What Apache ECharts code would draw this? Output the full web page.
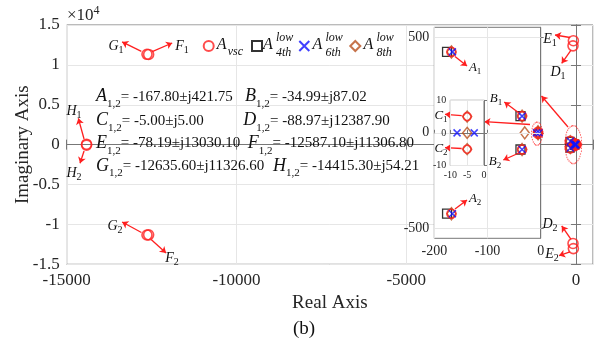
<!DOCTYPE html>
<html>
<head>
<meta charset="utf-8">
<script src="https://cdn.jsdelivr.net/npm/echarts@6/dist/echarts.min.js"></script>
<style>
  html, body { margin: 0; padding: 0; background: #fff; }
  #chart { width: 610px; height: 343px; }
</style>
</head>
<body>
<div id="chart"></div>
<script>
// poles (real, imag)
const vscPoles = [
  [-167.80, 421.75], [-167.80, -421.75],
  [-34.99, 87.02], [-34.99, -87.02],
  [-5.00, 5.00], [-5.00, -5.00],
  [-88.97, 12387.90], [-88.97, -12387.90],
  [-78.19, 13030.10], [-78.19, -13030.10],
  [-12587.10, 11306.80], [-12587.10, -11306.80],
  [-12635.60, 11326.60], [-12635.60, -11326.60],
  [-14415.30, 54.21], [-14415.30, -54.21]
]
const low4th = [[-176, 421.75], [-176, -421.75], [-38, 87.02], [-38, -87.02]]
const low6th = [[-166, 421.75], [-166, -421.75], [-35, 87.02], [-35, -87.02], [-8.0, 0], [-2.9, 0]]
const low8th = [[-167.8, 421.75], [-167.8, -421.75], [-35, 87.02], [-35, -87.02], [-30, 0], [-5, 5], [-5, 0], [-5, -5]]

// equation texts
const eqLeft = [['A', '-167.80±j421.75'], ['C', '-5.00±j5.00'], ['E', '-78.19±j13030.10'], ['G', '-12635.60±j11326.60']]
const eqRight = [['B', '-34.99±j87.02'], ['D', '-88.97±j12387.90'], ['F', '-12587.10±j11306.80'], ['H', '-14415.30±j54.21']]

// axis ranges: main, inset, zoomed inset
const xRanges = [[-15000, 500], [-200, 0], [-10, 0]]
const yRanges = [[-15000, 15000], [-550, 550], [-10, 10]]

// annotation arrows [x1, y1, x2, y2] in data units
const mainArrows = [
  [-12802, 11690, -13368, 12877], [-12481, 11665, -11894, 12743],
  [-12799, -11013, -13368, -9697], [-12513, -11878, -12074, -13574],
  [-14489, 708, -14657, 3303], [-14489, -796, -14607, -2339],
  [-177, 13432, -618, 13746], [-147, 11865, -421, 10198],
  [-147, -11865, -421, -10198], [-177, -13432, -500, -13900],
  [-236, 2213, -1016, 6099]
]
const mainLabels = [
  ['G', '1', -13547, 12367], ['F', '1', -11603, 12367],
  ['G', '2', -13576, -10198], ['F', '2', -11898, -14210],
  ['H', '1', -14784, 4218], ['H', '2', -14784, -3554],
  ['E', '1', -766, 13244], ['D', '1', -530, 9107],
  ['D', '2', -766, -9947], ['E', '2', -707, -13712]
]
const insetArrows = [
  [-161.1, 397.8, -138.5, 348], [-161.1, -397.8, -138.5, -350],
  [-40.8, 103.2, -68.4, 160.5], [-40.8, -105.4, -70.3, -141.9],
  [-20.1, 43.2, -106, 57.8],
  [-148.5, 89.1, -179.9, 96.4], [-148.5, -81.9, -179.9, -77.7]
]
const insetLabels = [
  ['A', '1', -123.3, 337.8], ['A', '2', -123.3, -345],
  ['B', '1', -84, 176], ['B', '2', -86, -152],
  ['C', '1', -187.4, 87.5], ['C', '2', -187.4, -84.5]
]

const FONT = '"Liberation Serif", "Times New Roman", serif'
const RED = '#ff1f1f'
const BROWN = '#b8501e'
const BLUE = '#1010ff'
const CLEAR = 'rgba(0,0,0,0)'

const chart = echarts.init(document.getElementById('chart'))

function clip(pts, g) {
  return pts.filter(p => p[0] >= xRanges[g][0] && p[0] <= xRanges[g][1] &&
    p[1] >= yRanges[g][0] && p[1] <= yRanges[g][1])
}

const labRich = size => ({
  v: { fontSize: size, fontStyle: 'italic', fontFamily: FONT, color: '#111' },
  s: { fontSize: Math.round(size * 0.68), fontFamily: FONT, color: '#111', padding: [Math.round(size * 0.6), 0, 0, 0] }
})

function markSeries(g, z, s) {
  const base = { type: 'scatter', xAxisIndex: g, yAxisIndex: g, z: z, silent: true, animation: false }
  return [
    Object.assign({}, base, { name: '4th', data: clip(low4th, g), symbol: 'rect', symbolSize: s.sq,
      itemStyle: { color: CLEAR, borderColor: '#000', borderWidth: 1.3 } }),
    Object.assign({}, base, { name: '8th', data: clip(low8th, g), symbol: 'diamond', symbolSize: s.dm,
      itemStyle: { color: CLEAR, borderColor: BROWN, borderWidth: 1.5 } }),
    Object.assign({}, base, { name: 'vsc', data: clip(vscPoles, g), symbol: 'circle', symbolSize: s.ci,
      itemStyle: { color: CLEAR, borderColor: RED, borderWidth: 1.6 } }),
    Object.assign({}, base, { name: '6th', data: clip(low6th, g), symbol: 'path://M0,0L10,10M10,0L0,10', symbolSize: s.x,
      itemStyle: { color: CLEAR, borderColor: BLUE, borderWidth: 1.5 } })
  ]
}

function annSeries(g, arrows, labels, ellipse) {
  const pts = labels.map(l => ({
    coord: [l[2], l[3]], symbol: 'circle', symbolSize: 0,
    label: { show: true, position: 'inside', formatter: '{v|' + l[0] + '}{s|' + l[1] + '}', rich: labRich(g === 0 ? 14 : 13) }
  }))
  pts.push({
    coord: ellipse.c, symbol: 'circle', symbolSize: ellipse.size,
    itemStyle: { color: CLEAR, borderColor: RED, borderWidth: 1, borderType: 'dotted' },
    label: { show: false }
  })
  return {
    type: 'scatter', xAxisIndex: g, yAxisIndex: g, data: [], z: 9, silent: true, animation: false,
    markLine: {
      silent: true, animation: false, symbol: ['none', 'arrow'], symbolSize: 6,
      lineStyle: { color: RED, width: 1.3, type: 'solid' }, label: { show: false },
      data: arrows.map(a => [{ coord: [a[0], a[1]] }, { coord: [a[2], a[3]] }])
    },
    markPoint: { silent: true, animation: false, data: pts }
  }
}

const axisCommon = (g, z, fs, margin) => ({
  gridIndex: g, type: 'value', z: z,
  min: null, max: null,
  axisLine: { show: true, lineStyle: { color: '#777', width: 1 } },
  axisTick: { show: true, inside: true, length: g === 0 ? 5 : 3, lineStyle: { color: '#777' } },
  axisLabel: { fontFamily: FONT, fontSize: fs, color: '#262626', margin: margin },
  splitLine: { show: true, lineStyle: { color: '#e6e6e6', width: 1 } }
})

const xAxes = [
  Object.assign(axisCommon(0, 0, 17, 7), { min: -15000, max: 500, interval: 5000,
    axisLabel: { fontFamily: FONT, fontSize: 17, color: '#262626', margin: 8, formatter: v => v > 0 ? '' : String(v) },
    name: 'Real Axis', nameLocation: 'middle', nameGap: 29, nameMoveOverlap: false,
    nameTextStyle: { fontFamily: FONT, fontSize: 19, color: '#262626' } }),
  Object.assign(axisCommon(1, 4, 14, 6), { min: -200, max: 0, interval: 100 }),
  Object.assign(axisCommon(2, 6, 10, 5), { min: -10, max: 0, interval: 5 }),
  Object.assign(axisCommon(0, 0, 17, 7), { min: -15000, max: 500, interval: 5000, position: 'top',
    axisLabel: { show: false }, splitLine: { show: false } })
]
const yAxes = [
  Object.assign(axisCommon(0, 0, 17, 7), { min: -15000, max: 15000, interval: 5000,
    axisLabel: { fontFamily: FONT, fontSize: 17, color: '#262626', margin: 7, formatter: v => String(v / 10000) },
    name: 'Imaginary Axis', nameLocation: 'middle', nameGap: 34, nameMoveOverlap: false,
    nameTextStyle: { fontFamily: FONT, fontSize: 19, color: '#262626' } }),
  Object.assign(axisCommon(1, 4, 14, 5), { min: -550, max: 550,
    axisLabel: { fontFamily: FONT, fontSize: 14, color: '#262626', margin: 5, customValues: [-500, 0, 500] },
    axisTick: { show: true, inside: true, length: 3, lineStyle: { color: '#777' }, customValues: [-500, 0, 500] },
    splitLine: { show: false } }),
  Object.assign(axisCommon(2, 6, 10, 4), { min: -10, max: 10, interval: 10 }),
  Object.assign(axisCommon(0, 0, 17, 7), { min: -15000, max: 15000, interval: 5000, position: 'right',
    axisLabel: { show: false }, splitLine: { show: false } })
]

// inset horizontal grid lines at the labelled values
const insetGrid = {
  type: 'scatter', xAxisIndex: 1, yAxisIndex: 1, data: [], z: 4, silent: true,
  markLine: { silent: true, animation: false, symbol: ['none', 'none'], label: { show: false },
    lineStyle: { color: '#e6e6e6', width: 1, type: 'solid' },
    data: [{ yAxis: -500 }, { yAxis: 0 }, { yAxis: 500 }] }
}

const legendNames = ['vsc', '4th', '6th', '8th']
const legendIconX = [207.7, 256, 303.3, 354.3]
const legendSubs = [['vsc', null], ['4th', 'low'], ['6th', 'low'], ['8th', 'low']]
const legendTextX = [216.7, 263, 312.5, 363.5]

const graphics = []
eqLeft.concat(eqRight).forEach((e, i) => {
  const xs = [96, 96, 96, 96, 245, 243.3, 247.7, 273]
  const ys = [96.7, 120.7, 143.3, 166]
  graphics.push({
    type: 'text', x: xs[i], y: ys[i % 4], z: 20,
    style: {
      text: '{v|' + e[0] + '}{s|1,2}{t|= ' + e[1] + '}', verticalAlign: 'middle', align: 'left',
      rich: {
        v: { fontSize: 18, fontStyle: 'italic', fontFamily: FONT, fill: '#111' },
        s: { fontSize: 11, fontFamily: FONT, fill: '#111', padding: [15, 0, 0, 0] },
        t: { fontSize: 15, fontFamily: FONT, fill: '#111' }
      }
    }
  })
})
legendSubs.forEach((l, i) => {
  graphics.push({ type: 'text', x: legendTextX[i], y: 45, z: 20,
    style: { text: 'A', fontSize: 16, fontStyle: 'italic', fontFamily: FONT, fill: '#111', verticalAlign: 'middle' } })
  graphics.push({ type: 'text', x: legendTextX[i] + (l[1] ? 13 : 11), y: l[1] ? 45.5 : 51.5, z: 20,
    style: { text: l[1] ? l[1] + '\n' + l[0] : l[0], fontSize: 12, lineHeight: 15, fontStyle: 'italic',
      fontFamily: FONT, fill: '#111', verticalAlign: 'middle' } })
})
graphics.push({ type: 'text', x: 67, y: 16, z: 20,
  style: { text: '{a|×10}{b|4}', verticalAlign: 'middle',
    rich: { a: { fontSize: 17, fontFamily: FONT, fill: '#262626' },
      b: { fontSize: 12, fontFamily: FONT, fill: '#262626', padding: [0, 0, 10, 0] } } } })
graphics.push({ type: 'text', x: 304, y: 329, z: 20,
  style: { text: '(b)', fontSize: 19, fontFamily: FONT, fill: '#111', align: 'center', verticalAlign: 'middle' } })

chart.setOption({
  animation: false,
  backgroundColor: '#fff',
  grid: [
    { left: 66.7, top: 25, width: 526.3, height: 239.3, show: true, borderColor: '#777', borderWidth: 1, backgroundColor: '#fff', z: 0, outerBoundsMode: 'none', containLabel: false },
    { left: 434.3, top: 27.3, width: 106.4, height: 211, show: true, borderColor: '#777', borderWidth: 1, backgroundColor: '#fff', z: 3, outerBoundsMode: 'none', containLabel: false },
    { left: 450.3, top: 100.3, width: 33.7, height: 65.2, show: true, borderColor: '#777', borderWidth: 1, backgroundColor: '#fff', z: 5, outerBoundsMode: 'none', containLabel: false }
  ],
  xAxis: xAxes,
  yAxis: yAxes,
  legend: legendNames.map((n, i) => ({
    data: [n], left: legendIconX[i] - 5, top: 40, padding: 0, itemWidth: 10, itemHeight: 10,
    selectedMode: false, formatter: () => ' ', textStyle: { fontSize: 4 }
  })),
  graphic: graphics,
  series: [
    ...markSeries(0, 2, { sq: 8, dm: [9, 11], ci: 10, x: 7 }),
    insetGrid,
    ...markSeries(1, 4, { sq: 9, dm: [9, 12], ci: 9, x: 7 }),
    ...markSeries(2, 7, { sq: 9, dm: [9, 11], ci: 8, x: 7 }),
    annSeries(0, mainArrows, mainLabels, { c: [-80, 0], size: [17, 38] }),
    annSeries(1, insetArrows, insetLabels, { c: [-6.9, -4.7], size: [11, 23] })
  ]
})
</script>
</body>
</html>
